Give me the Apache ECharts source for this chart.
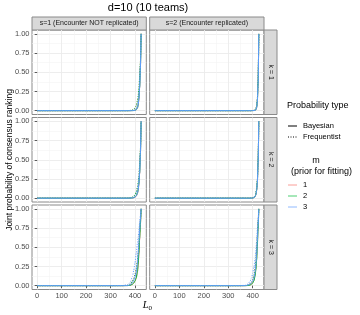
<!DOCTYPE html>
<html><head><meta charset="utf-8">
<script src="https://cdn.jsdelivr.net/npm/echarts@6/dist/echarts.min.js"></script>
<style>html,body{margin:0;padding:0;background:#fff}#c{width:360px;height:315px}</style>
</head><body><div id="c"></div>
<script>
// ---- data ----
const L0 = [0,100,200,300,350,370,380,390,395,400,405,410,413,416,419,422,425];
const xTicks = [0,100,200,300,400];
const xMinor = [50,150,250,350];
const yTicks = [0,0.25,0.5,0.75,1];
const yMinor = [0.125,0.375,0.625,0.875];
const sLabels = ['s=1 (Encounter NOT replicated)','s=2 (Encounter replicated)'];
const kLabels = ['k = 1','k = 2','k = 3'];
const mLabels = ['1','2','3'];
const typeLabels = ['Bayesian','Frequentist'];

// s=1, k=1
const s1k1_bay_m1  = [0,0,0,0,0,0,0,0.001,0.002,0.004,0.01,0.035,0.07,0.15,0.3,0.55,1];
const s1k1_bay_m2  = [0,0,0,0,0,0,0,0.001,0.002,0.005,0.012,0.038,0.075,0.16,0.31,0.56,1];
const s1k1_bay_m3  = [0,0,0,0,0,0,0,0.001,0.002,0.004,0.011,0.036,0.072,0.155,0.3,0.55,1];
const s1k1_freq_m1 = [0,0,0,0,0,0,0.002,0.008,0.015,0.03,0.06,0.12,0.18,0.28,0.42,0.62,1];
const s1k1_freq_m2 = [0,0,0,0,0,0,0.003,0.01,0.02,0.035,0.065,0.13,0.19,0.29,0.43,0.63,1];
const s1k1_freq_m3 = [0,0,0,0,0,0,0.001,0.004,0.008,0.015,0.035,0.08,0.13,0.22,0.37,0.58,1];
// s=2, k=1
const s2k1_bay_m1  = [0,0,0,0,0,0,0,0,0,0.001,0.002,0.005,0.012,0.04,0.12,0.35,1];
const s2k1_bay_m2  = [0,0,0,0,0,0,0,0,0,0.001,0.002,0.006,0.013,0.042,0.125,0.36,1];
const s2k1_bay_m3  = [0,0,0,0,0,0,0,0,0,0.001,0.002,0.005,0.011,0.038,0.115,0.34,1];
const s2k1_freq_m1 = [0,0,0,0,0,0,0,0,0.001,0.002,0.004,0.01,0.02,0.055,0.15,0.39,1];
const s2k1_freq_m2 = [0,0,0,0,0,0,0,0,0.001,0.002,0.004,0.011,0.021,0.057,0.155,0.4,1];
const s2k1_freq_m3 = [0,0,0,0,0,0,0,0,0.001,0.002,0.003,0.009,0.018,0.05,0.14,0.38,1];
// s=1, k=2
const s1k2_bay_m1  = [0,0,0,0,0,0,0.001,0.003,0.006,0.012,0.025,0.06,0.1,0.18,0.32,0.56,1];
const s1k2_bay_m2  = [0,0,0,0,0,0,0.001,0.004,0.008,0.015,0.03,0.07,0.11,0.19,0.33,0.57,1];
const s1k2_bay_m3  = [0,0,0,0,0,0,0.001,0.003,0.006,0.013,0.027,0.065,0.105,0.185,0.325,0.565,1];
const s1k2_freq_m1 = [0,0,0,0,0,0.001,0.004,0.012,0.022,0.04,0.07,0.13,0.19,0.28,0.42,0.62,1];
const s1k2_freq_m2 = [0,0,0,0,0,0.001,0.005,0.015,0.025,0.045,0.08,0.14,0.2,0.29,0.43,0.63,1];
const s1k2_freq_m3 = [0,0,0,0,0,0.001,0.003,0.01,0.018,0.034,0.06,0.115,0.17,0.26,0.4,0.6,1];
// s=2, k=2
const s2k2_bay_m1  = [0,0,0,0,0,0,0,0,0.001,0.003,0.007,0.02,0.045,0.1,0.2,0.45,1];
const s2k2_bay_m2  = [0,0,0,0,0,0,0,0,0.001,0.003,0.008,0.022,0.048,0.105,0.21,0.46,1];
const s2k2_bay_m3  = [0,0,0,0,0,0,0,0,0.001,0.003,0.007,0.02,0.044,0.098,0.2,0.45,1];
const s2k2_freq_m1 = [0,0,0,0,0,0,0,0.001,0.003,0.006,0.012,0.03,0.06,0.12,0.23,0.48,1];
const s2k2_freq_m2 = [0,0,0,0,0,0,0,0.001,0.003,0.007,0.013,0.032,0.062,0.125,0.235,0.49,1];
const s2k2_freq_m3 = [0,0,0,0,0,0,0,0.001,0.002,0.005,0.011,0.028,0.056,0.115,0.22,0.47,1];
// s=1, k=3
const s1k3_bay_m1  = [0,0,0,0,0,0.001,0.004,0.018,0.035,0.06,0.1,0.18,0.27,0.41,0.6,0.79,1];
const s1k3_bay_m2  = [0,0,0,0,0,0.001,0.004,0.02,0.035,0.06,0.1,0.18,0.28,0.43,0.62,0.8,1];
const s1k3_bay_m3  = [0,0,0,0,0,0.002,0.01,0.04,0.07,0.11,0.17,0.29,0.42,0.55,0.72,0.86,1];
const s1k3_freq_m1 = [0,0,0,0,0.001,0.006,0.02,0.06,0.1,0.15,0.22,0.33,0.43,0.56,0.71,0.85,1];
const s1k3_freq_m2 = [0,0,0,0,0.001,0.005,0.018,0.055,0.09,0.14,0.21,0.32,0.42,0.55,0.7,0.85,1];
const s1k3_freq_m3 = [0,0,0,0,0.002,0.01,0.04,0.12,0.2,0.3,0.42,0.55,0.63,0.72,0.82,0.92,1];
// s=2, k=3
const s2k3_bay_m1  = [0,0,0,0,0,0,0.002,0.01,0.02,0.04,0.07,0.14,0.22,0.35,0.54,0.76,1];
const s2k3_bay_m2  = [0,0,0,0,0,0,0.002,0.009,0.018,0.035,0.065,0.13,0.21,0.33,0.52,0.74,1];
const s2k3_bay_m3  = [0,0,0,0,0,0.001,0.006,0.022,0.04,0.06,0.1,0.18,0.27,0.4,0.58,0.78,1];
const s2k3_freq_m1 = [0,0,0,0,0,0.002,0.008,0.03,0.05,0.085,0.14,0.24,0.34,0.48,0.66,0.84,1];
const s2k3_freq_m2 = [0,0,0,0,0,0.002,0.007,0.025,0.045,0.08,0.13,0.23,0.33,0.47,0.65,0.83,1];
const s2k3_freq_m3 = [0,0,0,0,0.001,0.005,0.02,0.06,0.1,0.16,0.24,0.36,0.46,0.58,0.74,0.88,1];

// panels[row k][col s] = [bayesian m1..m3, frequentist m1..m3]
const panels = [
  [[[s1k1_bay_m1,s1k1_bay_m2,s1k1_bay_m3],[s1k1_freq_m1,s1k1_freq_m2,s1k1_freq_m3]],
   [[s2k1_bay_m1,s2k1_bay_m2,s2k1_bay_m3],[s2k1_freq_m1,s2k1_freq_m2,s2k1_freq_m3]]],
  [[[s1k2_bay_m1,s1k2_bay_m2,s1k2_bay_m3],[s1k2_freq_m1,s1k2_freq_m2,s1k2_freq_m3]],
   [[s2k2_bay_m1,s2k2_bay_m2,s2k2_bay_m3],[s2k2_freq_m1,s2k2_freq_m2,s2k2_freq_m3]]],
  [[[s1k3_bay_m1,s1k3_bay_m2,s1k3_bay_m3],[s1k3_freq_m1,s1k3_freq_m2,s1k3_freq_m3]],
   [[s2k3_bay_m1,s2k3_bay_m2,s2k3_bay_m3],[s2k3_freq_m1,s2k3_freq_m2,s2k3_freq_m3]]]
];

// ---- layout / style ----
const FONT = 'Liberation Sans, Arial, Helvetica, sans-serif';
const colors = ['#F8766D','#00BA38','#619CFF'];
const lineTypes = ['solid',[1,1.5]];
const XMIN = -21.25, XMAX = 446.25, YMIN = -0.05, YMAX = 1.05;
const colLeft = [32, 149.7], colW = 114.3;
const rowTop = [30, 117.5, 205], rowH = 84.5;
const stripH = 13;

const grids = [], xAxes = [], yAxes = [], series = [], graphics = [];
for (let r = 0; r < 3; r++) {
  for (let c = 0; c < 2; c++) {
    const gi = grids.length;
    grids.push({left: colLeft[c], top: rowTop[r], width: colW, height: rowH,
      show: true, backgroundColor: '#fff', borderColor: '#8a8a8a', borderWidth: 1,
      containLabel: false, outerBoundsMode: 'none'});
    const bottom = r === 2, leftCol = c === 0;
    xAxes.push({gridIndex: gi, type: 'value', min: XMIN, max: XMAX, position: 'bottom',
      axisLine: {show: false},
      axisTick: {show: bottom, customValues: xTicks, length: 2.5, lineStyle: {color: '#333', width: 0.8}},
      axisLabel: {show: bottom, customValues: xTicks, margin: 2.5, fontSize: 7.5, color: '#4D4D4D', fontFamily: FONT},
      splitLine: {show: true, lineStyle: {color: '#EBEBEB', width: 0.9}}});
    xAxes.push({gridIndex: gi, type: 'value', min: XMIN, max: XMAX, position: 'bottom',
      axisLine: {show: false},
      axisTick: {show: false, customValues: xMinor},
      axisLabel: {show: false, customValues: xMinor},
      splitLine: {show: true, lineStyle: {color: '#F4F4F4', width: 0.6}}});
    yAxes.push({gridIndex: gi, type: 'value', min: YMIN, max: YMAX, position: 'left',
      axisLine: {show: false},
      axisTick: {show: leftCol, customValues: yTicks, length: 2.5, lineStyle: {color: '#333', width: 0.8}},
      axisLabel: {show: leftCol, customValues: yTicks, margin: 2.5, fontSize: 7.5, color: '#4D4D4D', fontFamily: FONT,
        formatter: v => Number(v).toFixed(2)},
      splitLine: {show: true, lineStyle: {color: '#EBEBEB', width: 0.9}}});
    yAxes.push({gridIndex: gi, type: 'value', min: YMIN, max: YMAX, position: 'left',
      axisLine: {show: false},
      axisTick: {show: false, customValues: yMinor},
      axisLabel: {show: false, customValues: yMinor},
      splitLine: {show: true, lineStyle: {color: '#F4F4F4', width: 0.6}}});
    const p = panels[r][c];
    for (let m = 0; m < 3; m++) {
      for (let t = 0; t < 2; t++) {
        series.push({type: 'line', xAxisIndex: 2*gi, yAxisIndex: 2*gi,
          name: typeLabels[t] + ' m=' + mLabels[m],
          data: L0.map((x, i) => [x, p[t][m][i]]),
          showSymbol: false, symbol: 'none', smooth: 0.25, smoothMonotone: 'x',
          lineStyle: {color: colors[m], width: 1, type: lineTypes[t]},
          silent: true, animation: false, z: 3});
      }
    }
  }
}

// strips
for (let c = 0; c < 2; c++) {
  graphics.push({type: 'rect', shape: {x: colLeft[c], y: rowTop[0] - stripH, width: colW, height: stripH},
    style: {fill: '#D9D9D9', stroke: '#8a8a8a', lineWidth: 1}});
  graphics.push({type: 'text', x: colLeft[c] + colW/2, y: rowTop[0] - stripH/2,
    style: {text: sLabels[c], fontSize: 7, fontFamily: FONT, fill: '#1A1A1A', textAlign: 'center', textVerticalAlign: 'middle'}});
}
const stripX = colLeft[1] + colW;
for (let r = 0; r < 3; r++) {
  graphics.push({type: 'rect', shape: {x: stripX, y: rowTop[r], width: stripH, height: rowH},
    style: {fill: '#D9D9D9', stroke: '#8a8a8a', lineWidth: 1}});
  graphics.push({type: 'text', x: stripX + stripH/2, y: rowTop[r] + rowH/2, rotation: -Math.PI/2,
    style: {text: kLabels[r], fontSize: 7, fontFamily: FONT, fill: '#1A1A1A', textAlign: 'center', textVerticalAlign: 'middle'}});
}
// titles
graphics.push({type: 'text', x: 148, y: 8, style: {text: 'd=10 (10 teams)', fontSize: 11, fontFamily: FONT, fill: '#000', textAlign: 'center', textVerticalAlign: 'middle'}});
graphics.push({type: 'text', x: 10, y: 160, rotation: Math.PI/2,
  style: {text: 'Joint probability of consensus ranking', fontSize: 8.5, fontFamily: FONT, fill: '#000', textAlign: 'center', textVerticalAlign: 'middle'}});
graphics.push({type: 'text', x: 148.5, y: 305.5, style: {text: 'L', fontSize: 10.5, fontStyle: 'italic', fontFamily: 'Liberation Serif, DejaVu Serif, serif', fill: '#000', textAlign: 'right', textVerticalAlign: 'middle'}});
graphics.push({type: 'text', x: 148.5, y: 308.5, style: {text: '0', fontSize: 7, fontFamily: 'Liberation Serif, DejaVu Serif, serif', fill: '#000', textAlign: 'left', textVerticalAlign: 'middle'}});
// legend
const lgX = 287;
graphics.push({type: 'text', x: lgX, y: 106, style: {text: 'Probability type', fontSize: 9, fontFamily: FONT, fill: '#000', textVerticalAlign: 'middle'}});
[126, 137].forEach((y, t) => {
  graphics.push({type: 'line', shape: {x1: lgX + 1, y1: y, x2: lgX + 10, y2: y},
    style: {stroke: '#000', lineWidth: 1, lineDash: t ? [1, 1.5] : null}});
  graphics.push({type: 'text', x: lgX + 16, y: y, style: {text: typeLabels[t], fontSize: 7.5, fontFamily: FONT, fill: '#000', textVerticalAlign: 'middle'}});
});
graphics.push({type: 'text', x: 316, y: 161, style: {text: 'm', fontSize: 9, fontFamily: FONT, fill: '#000', textAlign: 'center', textVerticalAlign: 'middle'}});
graphics.push({type: 'text', x: 321.5, y: 171.5, style: {text: '(prior for fitting)', fontSize: 9, fontFamily: FONT, fill: '#000', textAlign: 'center', textVerticalAlign: 'middle'}});
[185, 196, 207].forEach((y, m) => {
  graphics.push({type: 'line', shape: {x1: lgX + 1, y1: y, x2: lgX + 10, y2: y},
    style: {stroke: colors[m], lineWidth: 1, opacity: 0.7}});
  graphics.push({type: 'text', x: lgX + 16, y: y, style: {text: mLabels[m], fontSize: 7.5, fontFamily: FONT, fill: '#000', textVerticalAlign: 'middle'}});
});

const chart = echarts.init(document.getElementById('c'), null, {renderer: 'canvas'});
chart.setOption({
  backgroundColor: '#fff', animation: false,
  grid: grids, xAxis: xAxes, yAxis: yAxes, series: series,
  graphic: {elements: graphics}
});
</script></body></html>
